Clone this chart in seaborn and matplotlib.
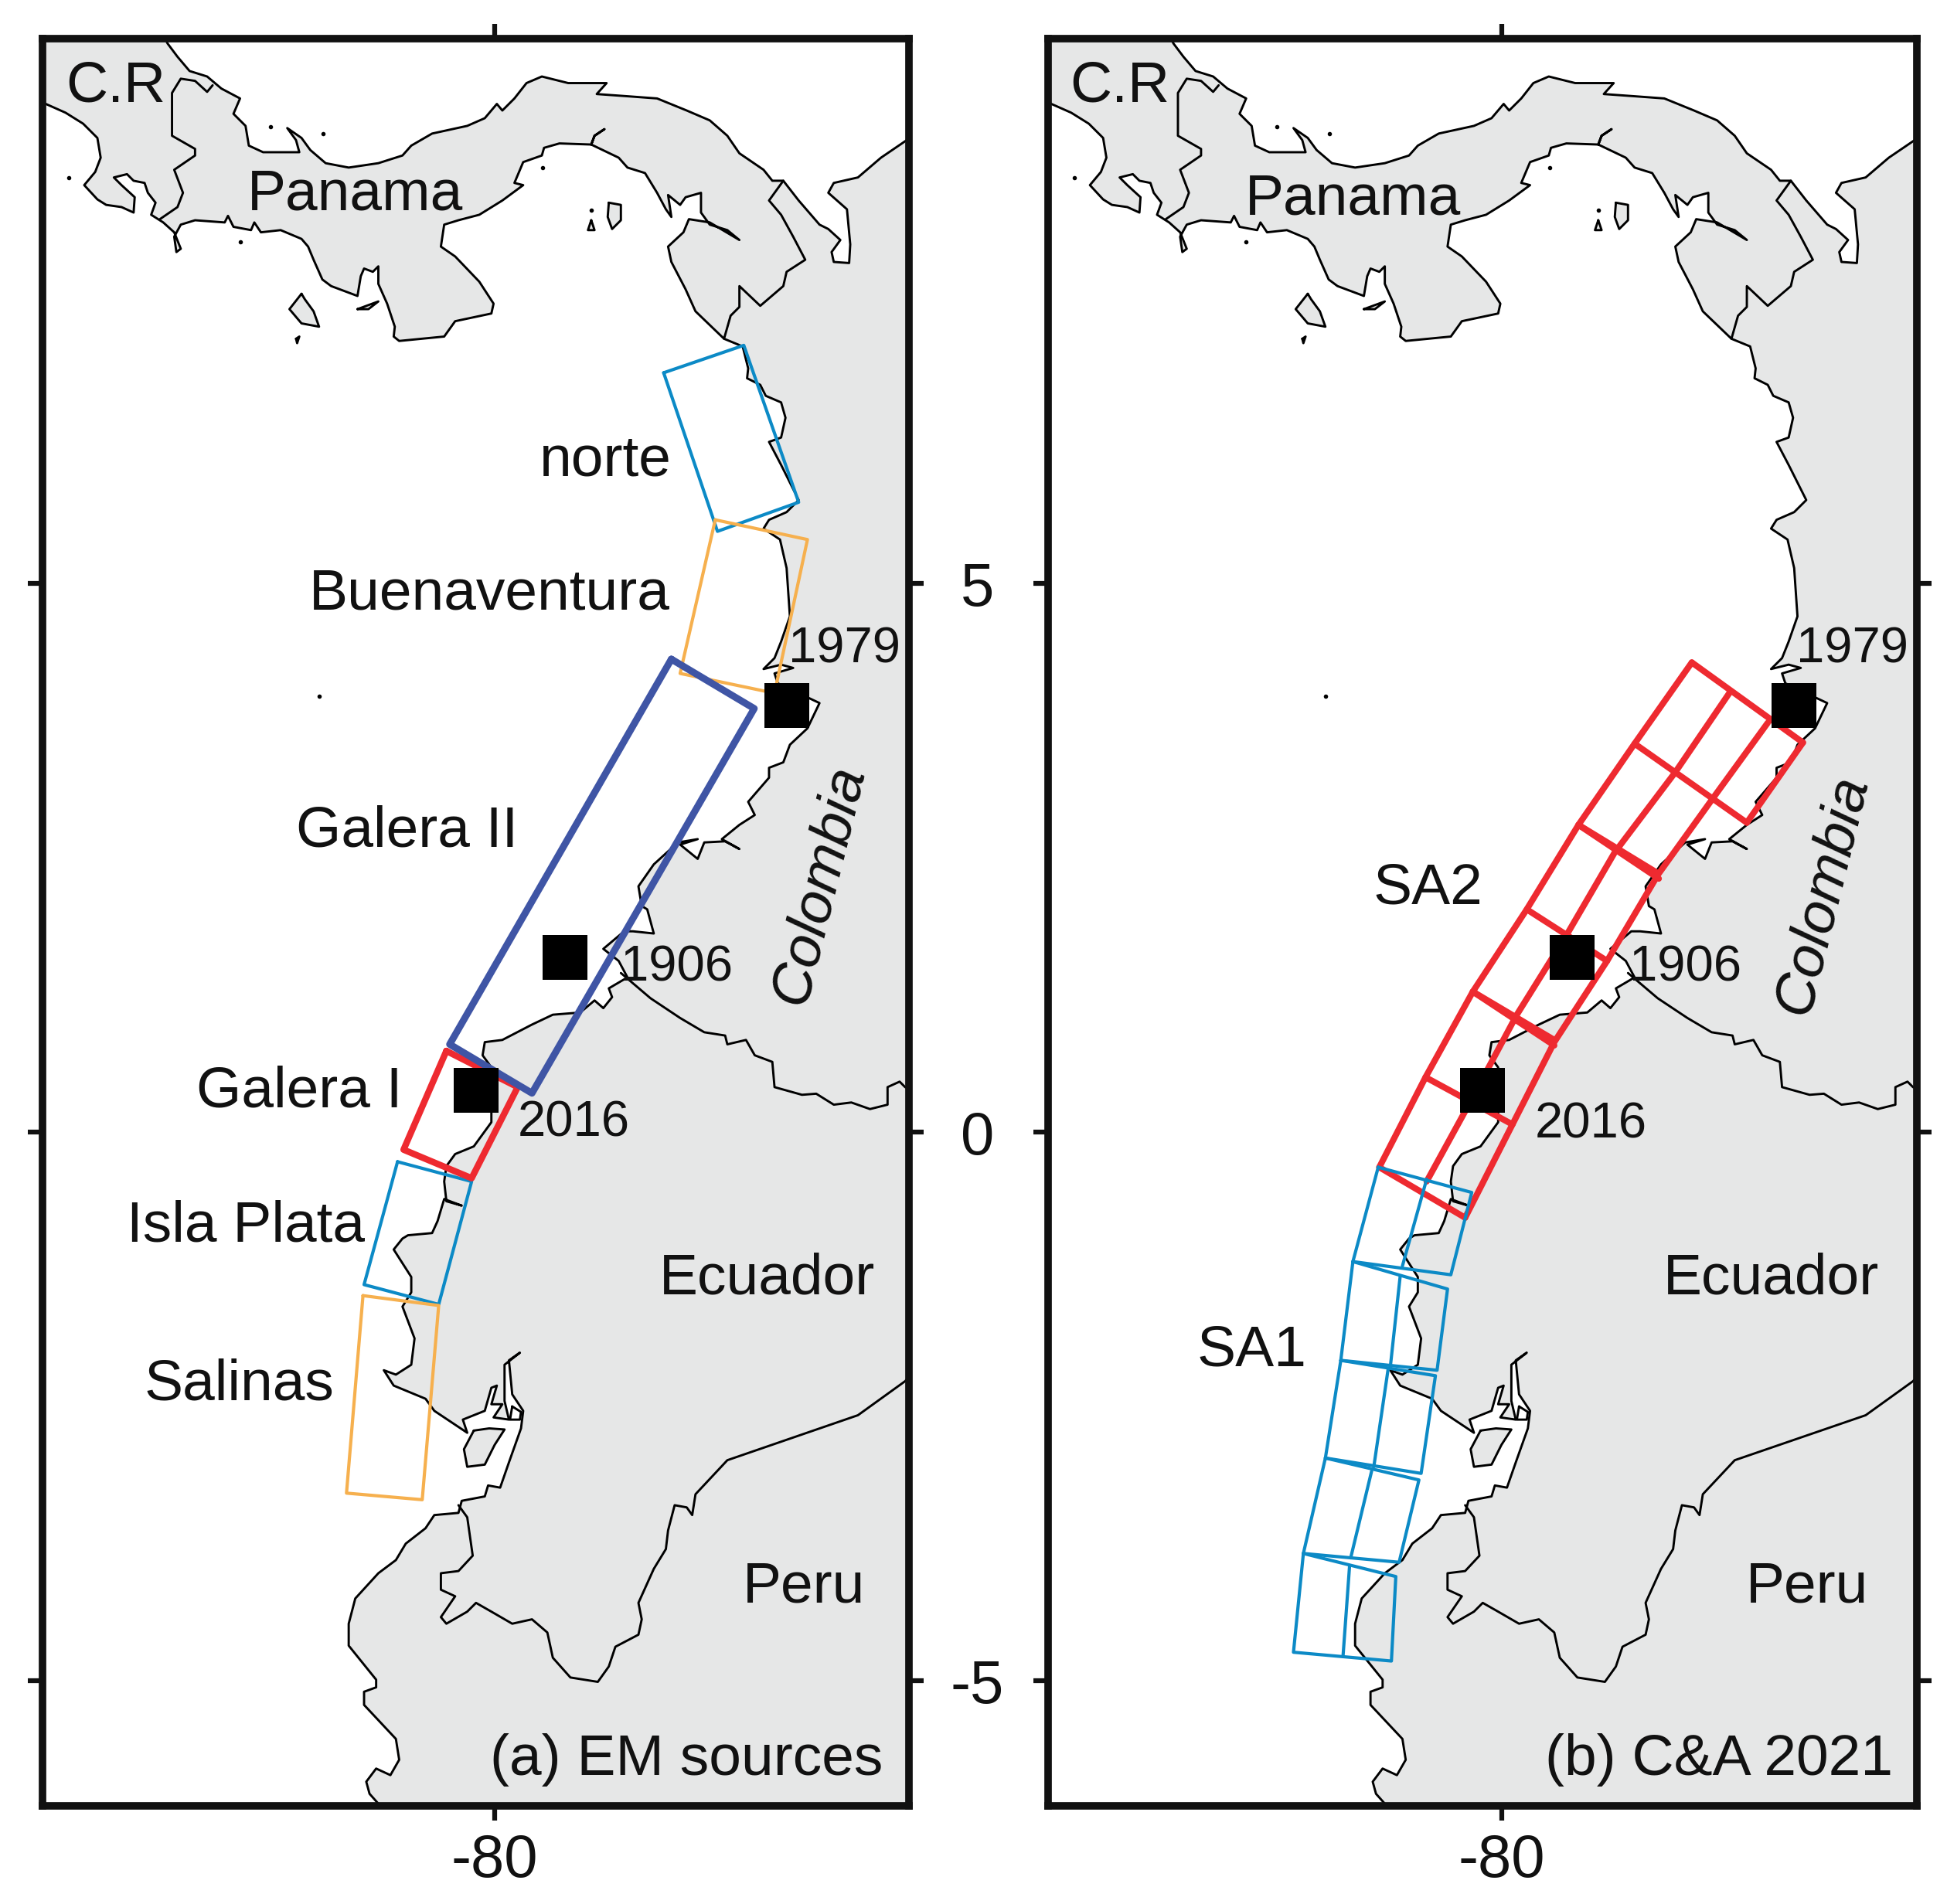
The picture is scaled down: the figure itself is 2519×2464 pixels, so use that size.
import matplotlib
matplotlib.use("Agg")
import matplotlib.pyplot as plt
import seaborn as sns

# ---------- coastline and borders (lon / lat) ----------
carib_lon = [-83.05,-82.98,-82.89,-82.78,-82.62,-82.49,-82.32,-82.38,-82.27,-82.24,-82.11,-81.78,-81.81,-81.89,-81.76,-81.68,-81.54,-81.33,-81.06,-80.84,-80.76,-80.57,-80.25,-80.09,-79.98,-79.93,-79.82,-79.71,-79.57,-79.33,-78.98,-79.07,-78.79,-78.52,-78.25,-78.04,-77.88,-77.77,-77.55,-77.47,-77.37,-77.23,-77.04,-76.96,-76.85,-76.93,-76.91,-76.77,-76.76,-76.79,-76.96,-76.91,-76.69,-76.48,-76.26,-76.0]
carib_lat = [10.05,9.92,9.80,9.67,9.62,9.51,9.42,9.28,9.17,8.99,8.93,8.93,9.04,9.15,9.06,8.95,8.83,8.79,8.83,8.90,8.99,9.10,9.17,9.24,9.37,9.31,9.42,9.56,9.62,9.56,9.56,9.46,9.44,9.42,9.31,9.22,9.08,8.92,8.77,8.67,8.67,8.49,8.27,8.23,8.13,8.02,7.93,7.92,8.09,8.41,8.56,8.65,8.70,8.88,9.03,9.2]

pac_lon = [-84.3,-84.09,-83.91,-83.75,-83.62,-83.59,-83.64,-83.74,-83.62,-83.54,-83.40,-83.29,-83.28,-83.40,-83.47,-83.35,-83.29,-83.19,-83.16,-83.09,-83.13,-83.02,-82.92,-82.86,-82.90,-82.92,-82.86,-82.73,-82.46,-82.43,-82.38,-82.22,-82.19,-82.13,-81.95,-81.76,-81.70,-81.65,-81.57,-81.49,-81.25,-81.22,-81.19,-81.11,-81.06,-81.06,-80.98,-80.91,-80.92,-80.87,-80.46,-80.36,-80.03,-80.01,-80.14,-80.36,-80.49,-80.46,-80.33,-80.14,-79.93,-79.74,-79.82,-79.74,-79.57,-79.55,-79.41,-79.12,-79.09,-79.00,-79.09,-79.12,-78.87,-78.79,-78.63,-78.52,-78.44,-78.39,-78.42,-78.31,-78.26,-78.12,-78.12,-78.04,-77.88,-77.77,-78.04,-78.23,-78.28,-78.42,-78.39,-78.26,-78.17,-77.91,-77.74,-77.69,-77.70,-77.58,-77.53,-77.39,-77.35,-77.39,-77.50,-77.39,-77.28,-77.23,-77.34,-77.50,-77.55,-77.40,-77.34,-77.31,-77.39,-77.45,-77.55,-77.39,-77.28,-77.45,-77.42,-77.04,-77.15,-77.31,-77.37,-77.50,-77.50,-77.69,-77.63,-77.77,-77.93,-77.77,-77.90,-78.09,-78.15,-78.31,-78.15,-78.33,-78.55,-78.69,-78.66,-78.61,-78.55,-78.74,-78.82,-79.01,-78.87,-78.79,-78.96,-78.93,-79.01,-79.09,-79.22,-79.47,-79.66,-79.93,-80.09,-80.11,-80.03,-80.03,-80.19,-80.36,-80.44,-80.46,-80.44,-80.30,-80.46,-80.52,-80.57,-80.79,-80.84,-80.92,-80.76,-80.76,-80.84,-80.73,-80.76,-80.90,-81.01,-80.92,-80.63,-80.55,-80.25,-80.29,-80.09,-80.03,-79.98,-80.03,-79.93,-80.01,-79.87,-79.91,-79.91,-79.77,-79.87,-79.84,-79.74,-79.76,-79.87,-79.95,-80.06,-80.09,-80.30,-80.33,-80.55,-80.63,-80.81,-80.90,-81.06,-81.27,-81.33,-81.33,-81.08,-81.08,-81.19,-81.19,-80.90,-80.87,-80.95,-81.08,-81.17,-81.14,-81.06,-80.98]
pac_lat = [9.50,9.37,9.29,9.19,9.06,8.88,8.75,8.63,8.50,8.45,8.43,8.38,8.52,8.63,8.70,8.73,8.67,8.65,8.56,8.47,8.36,8.29,8.20,8.05,8.02,8.16,8.27,8.31,8.29,8.35,8.25,8.22,8.29,8.20,8.22,8.14,8.07,7.95,7.77,7.71,7.62,7.80,7.87,7.84,7.89,7.73,7.55,7.34,7.25,7.21,7.25,7.39,7.46,7.55,7.75,7.98,8.07,8.27,8.31,8.36,8.49,8.63,8.65,8.84,8.90,8.97,9.01,9.00,9.08,9.14,9.08,9.00,8.88,8.79,8.74,8.56,8.41,8.34,8.54,8.45,8.52,8.56,8.38,8.27,8.22,8.13,8.29,8.32,8.20,8.07,7.93,7.68,7.48,7.23,7.16,6.96,6.87,6.81,6.71,6.65,6.51,6.33,6.29,6.08,5.86,5.76,5.65,5.58,5.50,5.40,5.14,4.70,4.47,4.32,4.22,4.26,4.23,4.18,4.09,3.91,3.68,3.53,3.37,3.32,3.23,3.01,2.89,2.80,2.67,2.58,2.65,2.64,2.49,2.62,2.67,2.64,2.44,2.24,2.06,2.03,1.81,1.83,1.83,1.67,1.56,1.41,1.31,1.23,1.13,1.20,1.09,1.07,0.98,0.84,0.82,0.70,0.59,0.09,-0.13,-0.20,-0.31,-0.45,-0.63,-0.67,-0.61,-0.81,-0.92,-0.94,-0.97,-1.07,-1.32,-1.46,-1.59,-1.88,-2.12,-2.21,-2.17,-2.31,-2.43,-2.54,-2.74,-2.62,-2.54,-2.33,-2.31,-2.48,-2.48,-2.60,-2.62,-2.45,-2.12,-2.01,-2.08,-2.39,-2.54,-2.70,-3.01,-3.24,-3.22,-3.32,-3.36,-3.47,-3.49,-3.61,-3.75,-3.90,-4.02,-4.25,-4.48,-4.68,-4.99,-5.06,-5.10,-5.22,-5.53,-5.72,-5.86,-5.80,-5.92,-6.03,-6.12,-6.4]

border_cr_lon = [-82.57,-82.62,-82.73,-82.86,-82.94,-82.94,-82.73,-82.73,-82.92,-82.84,-82.89,-83.05]
border_cr_lat = [9.54,9.48,9.58,9.60,9.47,9.08,8.96,8.90,8.77,8.56,8.43,8.32]
border_co_pa_lon = [-77.37,-77.50,-77.39,-77.28,-77.17,-77.34,-77.37,-77.58,-77.77,-77.77,-77.85,-77.91]
border_co_pa_lat = [8.67,8.49,8.36,8.16,7.95,7.84,7.71,7.53,7.71,7.52,7.44,7.23]
border_co_ec_lon = [-78.85,-78.58,-78.31,-78.09,-77.90,-77.88,-77.71,-77.63,-77.47,-77.45,-77.20,-77.07,-76.91,-76.75,-76.58,-76.42,-76.42,-76.31,-76.26,-76.1]
border_co_ec_lat = [1.45,1.22,1.04,0.91,0.88,0.80,0.84,0.70,0.64,0.41,0.34,0.35,0.25,0.27,0.21,0.25,0.41,0.46,0.41,0.35]
border_ec_pe_lon = [-80.33,-80.25,-80.20,-80.33,-80.49,-80.49,-80.36,-80.49,-80.44,-80.25,-80.17,-80.03,-79.84,-79.66,-79.52,-79.47,-79.31,-79.06,-78.96,-78.90,-78.69,-78.66,-78.69,-78.55,-78.44,-78.42,-78.36,-78.25,-78.20,-78.17,-77.88,-76.69,-76.26,-76.1]
border_ec_pe_lat = [-3.40,-3.51,-3.86,-4.00,-4.02,-4.17,-4.23,-4.42,-4.48,-4.37,-4.29,-4.37,-4.48,-4.44,-4.56,-4.79,-4.97,-5.01,-4.87,-4.69,-4.58,-4.44,-4.29,-3.98,-3.80,-3.63,-3.40,-3.42,-3.49,-3.30,-2.99,-2.58,-2.27,-2.1]

coiba_lon = [-81.76,-81.87,-81.76,-81.60,-81.65,-81.73,-81.76]
coiba_lat = [7.64,7.50,7.37,7.34,7.48,7.59,7.64]
cebaco_lon = [-81.25,-81.06,-81.15,-81.25]
cebaco_lat = [7.50,7.57,7.50,7.50]
jicaron_lon = [-81.81,-81.78,-81.80,-81.81]
jicaron_lat = [7.23,7.25,7.19,7.23]
pearl_lon = [-78.96,-78.85,-78.85,-78.93,-78.97,-78.96]
pearl_lat = [8.47,8.45,8.31,8.23,8.34,8.47]
pearl2_lon = [-79.12,-79.09,-79.15,-79.12]
pearl2_lat = [8.31,8.22,8.22,8.31]
puna_lon = [-80.19,-80.05,-79.91,-80.00,-80.09,-80.25,-80.28,-80.19]
puna_lat = [-2.72,-2.70,-2.71,-2.85,-3.03,-3.05,-2.89,-2.72]
gulf_lon = [-79.84,-79.76,-79.77,-79.86,-79.84]
gulf_lat = [-2.50,-2.55,-2.62,-2.62,-2.50]
dots_lon = [-83.88,-81.56,-82.04,-79.56,-82.32,-79.12,-81.6]
dots_lat = [8.70,9.10,9.16,8.79,8.11,8.40,3.97]

# ---------- panel (a) source outlines ----------
norte_lon = [-78.46,-77.73,-77.23,-77.97,-78.46]
norte_lat = [6.92,7.17,5.74,5.475,6.92]
buena_lon = [-77.99,-77.15,-77.45,-78.31,-77.99]
buena_lat = [5.58,5.40,4.00,4.18,5.58]
galera2_lon = [-78.39,-77.635,-79.66,-80.41,-78.39]
galera2_lat = [4.31,3.86,0.355,0.80,4.31]
galera1_lon = [-80.44,-79.79,-80.21,-80.83,-80.44]
galera1_lat = [0.74,0.41,-0.42,-0.16,0.74]
plata_lon = [-80.885,-80.21,-80.51,-81.19,-80.885]
plata_lat = [-0.27,-0.45,-1.57,-1.39,-0.27]
salinas_lon = [-81.20,-80.51,-80.66,-81.35,-81.20]
salinas_lat = [-1.49,-1.58,-3.35,-3.29,-1.49]

# ---------- events ----------
event_lon = [-77.34,-79.36,-80.17]
event_lat = [3.89,1.59,0.38]

# ---------- panel (b) SA2 grid ----------
sa2_lines = [
    ([-78.27,-78.79,-79.30,-79.77,-80.26,-80.69,-81.11],[4.28,3.54,2.80,2.03,1.28,0.50,-0.32]),
    ([-77.93,-78.42,-78.97,-79.40,-79.86,-80.33,-80.68],[4.00,3.28,2.55,1.81,1.07,0.19,-0.45]),
    ([-77.58,-78.08,-78.575,-79.04,-79.52,-79.90,-80.33],[3.73,3.04,2.35,1.56,0.82,0.07,-0.78]),
    ([-77.26,-77.77],[3.55,2.82]),
    ([-78.27,-77.26],[4.28,3.55]),
    ([-78.79,-77.77],[3.54,2.82]),
    ([-79.30,-78.57],[2.80,2.31]),
    ([-79.30,-78.58],[2.80,2.36]),
    ([-79.77,-79.04],[2.03,1.56]),
    ([-80.26,-79.52],[1.28,0.79]),
    ([-80.26,-79.52],[1.28,0.84]),
    ([-80.69,-79.90],[0.50,0.07]),
    ([-81.11,-80.33],[-0.32,-0.78]),
]
# ---------- panel (b) SA1 tiles ----------
sa1_lines = [
    ([-81.12,-80.27,-80.46,-81.35,-81.12],[-0.32,-0.55,-1.30,-1.18,-0.32]),
    ([-80.68,-80.90],[-0.43,-1.22]),
    ([-81.35,-80.49,-80.585,-81.46,-81.35],[-1.18,-1.43,-2.17,-2.08,-1.18]),
    ([-80.92,-81.01],[-1.31,-2.14]),
    ([-81.46,-80.60,-80.73,-81.60,-81.46],[-2.08,-2.22,-3.11,-2.97,-2.08]),
    ([-81.03,-81.16],[-2.16,-3.05]),
    ([-81.60,-80.75,-80.93,-81.80,-81.60],[-2.97,-3.17,-3.92,-3.84,-2.97]),
    ([-81.18,-81.37],[-3.09,-3.88]),
    ([-81.80,-80.96,-81.00,-81.89,-81.80],[-3.84,-4.05,-4.82,-4.74,-3.84]),
    ([-81.38,-81.44],[-3.95,-4.78]),
]

# ---------- tick values and labels ----------
lon_ticks = [-80]
lat_ticks = [-5, 0, 5]
lon_tick_labels = ["-80"]
lat_tick_labels = ["-5", "0", "5"]

labels_a = ["C.R","Panama","norte","Buenaventura","Galera II","Galera I","Isla Plata","Salinas","Ecuador","Peru"]
labels_a_lon = [-83.45,-81.27,-78.99,-80.05,-80.80,-81.78,-82.27,-82.33,-77.52,-77.18]
labels_a_lat = [9.53,8.54,6.12,4.90,2.74,0.37,-0.86,-2.30,-1.34,-4.15]
labels_b = ["C.R","Panama","SA2","SA1","Ecuador","Peru"]
labels_b_lon = [-83.47,-81.35,-80.67,-82.27,-77.55,-77.22]
labels_b_lat = [9.53,8.50,2.22,-1.99,-1.34,-4.15]
years = ["1979","1906","2016"]
years_a_lon = [-76.81,-78.34,-79.28]
years_a_lat = [4.40,1.50,0.08]
years_b_lon = [-76.81,-78.33,-79.19]
years_b_lat = [4.40,1.50,0.07]

LAND = "#e6e7e7"
INK = "#111111"
BLUE = "#0c8ac6"
ORANGE = "#f6b04e"
NAVY = "#3f55a5"
RED = "#ee2a30"

sns.set_theme(style="ticks")
plt.rcParams["font.family"] = ["Liberation Sans", "DejaVu Sans"]
plt.rcParams["text.color"] = INK

W, H = 2519, 2464
fig = plt.figure(figsize=(W / 100, H / 100), dpi=100, facecolor="white")
ax_a = fig.add_axes([55 / W, 1 - 2337 / H, (1176 - 55) / W, (2337 - 50) / H])
ax_b = fig.add_axes([1356 / W, 1 - 2337 / H, (2480 - 1356) / W, (2337 - 50) / H])


def path(ax, lon, lat, color, lw, z):
    sns.lineplot(x=lon, y=lat, sort=False, estimator=None, color=color, linewidth=lw,
                 ax=ax, zorder=z, legend=False, solid_joinstyle="round", solid_capstyle="round")


def base_map(ax):
    land_lon = [-84.3, -83.05] + carib_lon + [-76.0, -80.98] + pac_lon[::-1]
    land_lat = [10.3, 10.3] + carib_lat + [-6.4, -6.4] + pac_lat[::-1]
    ax.fill(land_lon, land_lat, color=LAND, linewidth=0, zorder=1)
    for lon, lat in [(coiba_lon, coiba_lat), (cebaco_lon, cebaco_lat), (jicaron_lon, jicaron_lat),
                     (pearl_lon, pearl_lat), (pearl2_lon, pearl2_lat), (puna_lon, puna_lat)]:
        ax.fill(lon, lat, color=LAND, linewidth=0, zorder=1)
    lw = 2.1
    for lon, lat in [(carib_lon, carib_lat), (pac_lon, pac_lat),
                     (border_cr_lon, border_cr_lat), (border_co_pa_lon, border_co_pa_lat),
                     (border_co_ec_lon, border_co_ec_lat), (border_ec_pe_lon, border_ec_pe_lat),
                     (coiba_lon, coiba_lat), (cebaco_lon, cebaco_lat), (jicaron_lon, jicaron_lat),
                     (pearl_lon, pearl_lat), (pearl2_lon, pearl2_lat), (puna_lon, puna_lat),
                     (gulf_lon, gulf_lat)]:
        path(ax, lon, lat, "black", lw, 2)
    sns.scatterplot(x=dots_lon, y=dots_lat, color="black", s=16, linewidth=0, ax=ax, zorder=2, legend=False)


def finish(ax):
    sns.scatterplot(x=event_lon, y=event_lat, color="black", marker="s", s=1800, linewidth=0,
                    ax=ax, zorder=6, legend=False)
    ax.set_xlim(-84.12, -76.225)
    ax.set_ylim(-6.14, 9.965)
    ax.set_xticks(lon_ticks, lon_tick_labels)
    ax.set_yticks(lat_ticks, lat_tick_labels)
    ax.tick_params(axis="both", which="major", direction="out", length=14, width=4.5,
                   color=INK, labelsize=56, labelcolor=INK, top=True, right=True, bottom=True, left=True)
    ax.tick_params(axis="x", pad=11)
    ax.tick_params(axis="y", pad=52)
    for lab in ax.get_yticklabels():
        lab.set_horizontalalignment("center")
    for s in ax.spines.values():
        s.set_linewidth(7)
        s.set_color(INK)
        s.set_visible(True)
    ax.grid(False)
    ax.set_xlabel("")
    ax.set_ylabel("")


def put(ax, lon, lat, text, size=54, **kw):
    ax.text(lon, lat, text, fontsize=size, ha="center", va="center", zorder=8, **kw)


# panel (a)
base_map(ax_a)
path(ax_a, norte_lon, norte_lat, BLUE, 3, 3)
path(ax_a, buena_lon, buena_lat, ORANGE, 3, 3)
path(ax_a, plata_lon, plata_lat, BLUE, 3, 3)
path(ax_a, salinas_lon, salinas_lat, ORANGE, 3, 3)
path(ax_a, galera1_lon, galera1_lat, RED, 6, 4)
path(ax_a, galera2_lon, galera2_lat, NAVY, 6.5, 5)
finish(ax_a)
ax_a.tick_params(axis="y", labelleft=False)
for t, x, y in zip(labels_a, labels_a_lon, labels_a_lat):
    put(ax_a, x, y, t)
for t, x, y in zip(years, years_a_lon, years_a_lat):
    put(ax_a, x, y, t, size=47)
put(ax_a, -77.04, 2.26, "Colombia", size=54, rotation=76, style="italic")
put(ax_a, -78.25, -5.72, "(a) EM sources", size=54)

# panel (b)
base_map(ax_b)
for lon, lat in sa2_lines:
    path(ax_b, lon, lat, RED, 5.8, 3)
for lon, lat in sa1_lines:
    path(ax_b, lon, lat, BLUE, 3, 4)
finish(ax_b)
for t, x, y in zip(labels_b, labels_b_lon, labels_b_lat):
    put(ax_b, x, y, t)
for t, x, y in zip(years, years_b_lon, years_b_lat):
    put(ax_b, x, y, t, size=47)
put(ax_b, -77.08, 2.17, "Colombia", size=54, rotation=76, style="italic")
put(ax_b, -78.02, -5.72, "(b) C&A 2021", size=54)

fig.savefig("out.png", dpi=100, facecolor="white")
